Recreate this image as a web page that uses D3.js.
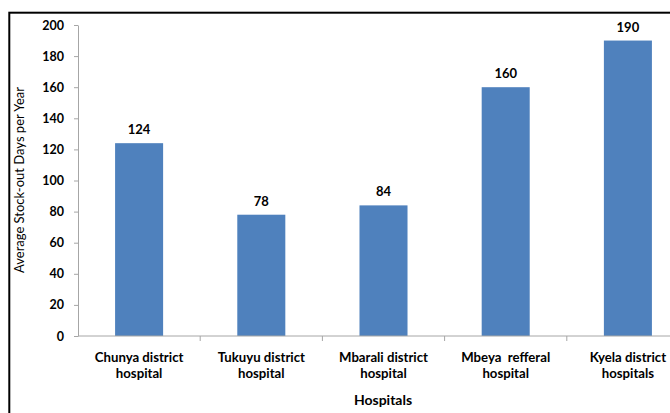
<!DOCTYPE html>
<html lang="en">
<head>
<meta charset="utf-8">
<script src="https://cdn.jsdelivr.net/npm/d3@7"></script>
<style>
  body { margin: 0; background: #fff; }
  svg text { font-family: Lato, "Open Sans", sans-serif; fill: #000; }
</style>
</head>
<body>
<div id="chart"></div>
<script>
const hospitals = ['Chunya district hospital', 'Tukuyu district hospital', 'Mbarali district hospital', 'Mbeya  refferal hospital', 'Kyela district hospitals']
const labelLines = [['Chunya district', 'hospital'], ['Tukuyu district', 'hospital'], ['Mbarali district', 'hospital'], ['Mbeya  refferal', 'hospital'], ['Kyela district', 'hospitals']]
const stockOutDays = [124, 78, 84, 160, 190]
const yTicks = [0, 20, 40, 60, 80, 100, 120, 140, 160, 180, 200]

const w = 670, h = 413
const padding = { left: 78, right: -19, top: 25, bottom: 77 }

const svg = d3.select('#chart').append('svg')
  .attr('width', w)
  .attr('height', h)

// frame (only top and left edges are inside the picture)
svg.append('rect')
  .attr('x', 9.3).attr('y', 12.7)
  .attr('width', 800).attr('height', 600)
  .attr('fill', 'none')
  .attr('stroke', '#000')
  .attr('stroke-width', 2)

const xCat = d3.scaleBand()
  .domain(hospitals)
  .range([padding.left, w - padding.right])
  .padding(0)
const xBar = d3.scaleBand()
  .domain(hospitals)
  .range([padding.left, w - padding.right])
  .paddingInner(0.607)
  .paddingOuter(0.3035)
const y = d3.scaleLinear()
  .domain([0, 200])
  .range([h - padding.bottom, padding.top])

// bars
svg.selectAll('rect.bar')
  .data(stockOutDays)
  .enter().append('rect')
  .attr('class', 'bar')
  .attr('x', (d, i) => xBar(hospitals[i]))
  .attr('y', d => y(d))
  .attr('width', xBar.bandwidth())
  .attr('height', d => y(0) - y(d))
  .attr('fill', '#4F81BD')

// value labels
svg.selectAll('text.val')
  .data(stockOutDays)
  .enter().append('text')
  .attr('class', 'val')
  .attr('x', (d, i) => xBar(hospitals[i]) + xBar.bandwidth() / 2)
  .attr('y', d => y(d) - 9)
  .attr('text-anchor', 'middle')
  .attr('font-size', '13px')
  .attr('font-weight', 'bold')
  .text(d => d)

// y axis
const yAxis = d3.axisLeft(y)
  .tickValues(yTicks)
  .tickSize(4)
  .tickSizeOuter(0)
  .tickPadding(10)
const gy = svg.append('g')
  .attr('transform', 'translate(' + padding.left + ',0)')
  .call(yAxis)
gy.select('.domain').attr('stroke', '#a6a6a6')
gy.selectAll('.tick line').attr('stroke', '#a6a6a6')
gy.selectAll('.tick text')
  .attr('font-size', '12.5px')
  .attr('font-weight', 'bold')
  .attr('fill', '#000')
  .style('font-family', 'Lato, sans-serif')

// x axis line and category boundary ticks
const baseY = y(0)
svg.append('line')
  .attr('x1', padding.left).attr('x2', w - padding.right)
  .attr('y1', baseY).attr('y2', baseY)
  .attr('stroke', '#a6a6a6')
svg.selectAll('line.xtick')
  .data(hospitals.slice(1))
  .enter().append('line')
  .attr('class', 'xtick')
  .attr('x1', d => xCat(d)).attr('x2', d => xCat(d))
  .attr('y1', baseY).attr('y2', baseY + 5)
  .attr('stroke', '#a6a6a6')

// x category labels
const xl = svg.selectAll('text.cat')
  .data(labelLines)
  .enter().append('text')
  .attr('class', 'cat')
  .attr('text-anchor', 'middle')
  .attr('font-size', '13.2px')
  .attr('font-weight', 'bold')
  .attr('xml:space', 'preserve')
xl.selectAll('tspan')
  .data((d, i) => d.map(s => ({ s: s, i: i })))
  .enter().append('tspan')
  .attr('x', d => xCat(hospitals[d.i]) + xCat.bandwidth() / 2)
  .attr('y', (d, j) => baseY + 26 + j * 16)
  .text(d => d.s)

// axis titles
svg.append('text')
  .attr('x', 383).attr('y', 405)
  .attr('text-anchor', 'middle')
  .attr('font-size', '14px')
  .attr('font-weight', 'bold')
  .text('Hospitals')
svg.append('text')
  .attr('transform', 'translate(24,180) rotate(-90)')
  .attr('text-anchor', 'middle')
  .attr('font-size', '13px')
  .text('Average Stock-out Days per Year')
</script>
</body>
</html>
